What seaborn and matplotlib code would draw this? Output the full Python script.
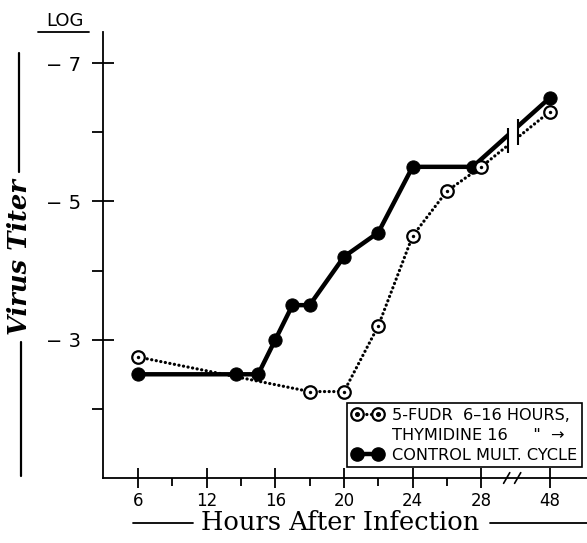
import numpy as np
import pandas as pd
import matplotlib
matplotlib.use("Agg")
import matplotlib.pyplot as plt
import seaborn as sns
from matplotlib.lines import Line2D
from matplotlib.legend_handler import HandlerTuple

# ---------------- data ----------------
hour_ticks = [6, 12, 16, 20, 24, 28, 48]
hour_tick_labels = ["6", "12", "16", "20", "24", "28", "48"]
hour_minor = [9, 14, 18, 22, 26]
titer_ticks = [3, 5, 7]
titer_tick_labels = ["− 3", "− 5", "− 7"]
titer_minor = [2, 4, 6]

control_hours = [6, 13.7, 15, 16, 17, 18, 20, 22, 24, 27.5, 48]
control_titer = [2.5, 2.5, 2.5, 3.0, 3.5, 3.5, 4.2, 4.55, 5.5, 5.5, 6.5]
fudr_hours = [6, 18, 20, 22, 24, 26, 28, 48]
fudr_titer = [2.75, 2.25, 2.25, 3.2, 4.5, 5.15, 5.5, 6.3]

legend_labels = ["5-FUDR  6–16 HOURS,", 'THYMIDINE 16     "  →', "CONTROL MULT. CYCLE"]

control_df = pd.DataFrame({"hours": control_hours, "titer": control_titer})
fudr_df = pd.DataFrame({"hours": fudr_hours, "titer": fudr_titer})

# piecewise-linear (broken) time axis: equal spacing between labelled hours
KN = np.array(hour_ticks, float)
PS = np.arange(len(KN), dtype=float)


def fwd(h):
    h = np.asarray(h, float)
    u = np.interp(h, KN, PS)
    u = np.where(h < KN[0], (h - KN[0]) / (KN[1] - KN[0]), u)
    u = np.where(h > KN[-1], PS[-1] + (h - KN[-1]) / (KN[-1] - KN[-2]), u)
    return u


def inv(u):
    u = np.asarray(u, float)
    h = np.interp(u, PS, KN)
    h = np.where(u < PS[0], KN[0] + u * (KN[1] - KN[0]), h)
    h = np.where(u > PS[-1], KN[-1] + (u - PS[-1]) * (KN[-1] - KN[-2]), h)
    return h


sns.set_style("white")
plt.rcParams["font.family"] = ["DejaVu Sans"]
plt.rcParams["text.color"] = "black"
plt.rcParams["xtick.color"] = "black"
plt.rcParams["ytick.color"] = "black"
plt.rcParams["xtick.labelcolor"] = "black"
plt.rcParams["ytick.labelcolor"] = "black"

W, H = 587, 543
fig = plt.figure(figsize=(W / 100, H / 100), dpi=100)
ax = fig.add_axes([103 / W, 1 - 478 / H, (W - 103) / W, (478 - 32) / H])
ax.set_xscale("function", functions=(fwd, inv))

DOT = (0, (0.05, 1.4))

sns.lineplot(data=control_df, x="hours", y="titer", ax=ax, color="black",
             lw=3.2, marker="o", markersize=9.5, markeredgecolor="black",
             estimator=None, sort=False, zorder=3)
sns.lineplot(data=fudr_df, x="hours", y="titer", ax=ax, color="black",
             lw=2.3, linestyle=DOT, dash_capstyle="round", marker="o",
             markersize=9, markerfacecolor="white", markeredgecolor="black",
             markeredgewidth=1.6, estimator=None, sort=False, zorder=4)
sns.scatterplot(data=fudr_df, x="hours", y="titer", ax=ax, color="black",
                s=6, linewidth=0, zorder=5)

ax.set_xlim(inv(-0.51), inv(6.54))
ax.set_ylim(1.0, 7.45)

# break in the curves between 28 and 48 h
b0, b1 = inv(5.385), inv(5.53)
ax.axvspan(b0, b1, ymin=0.66, ymax=0.9, color="white", zorder=6, lw=0)
cu = fwd(control_hours)
fu = fwd(fudr_hours)
for b in (b0, b1):
    ys = [np.interp(fwd(b), cu, control_titer), np.interp(fwd(b), fu, fudr_titer)]
    ax.plot([b, b], [min(ys) - 0.11, max(ys) + 0.11], color="black", lw=1.5,
            zorder=7, solid_capstyle="butt")

# x-axis break slashes
xt = ax.get_xaxis_transform()
for uc in (5.37, 5.53):
    ax.plot([inv(uc - 0.045), inv(uc + 0.045)], [-0.012, 0.012], transform=xt,
            color="black", lw=1.2, clip_on=False, zorder=8)

# spines & ticks
for s in ("top", "right"):
    ax.spines[s].set_visible(False)
for s in ("left", "bottom"):
    ax.spines[s].set_color("black")
    ax.spines[s].set_linewidth(1.3)

ax.set_xticks(hour_ticks, hour_tick_labels)
ax.set_xticks(hour_minor, minor=True)
ax.set_yticks(titer_ticks, titer_tick_labels)
ax.set_yticks(titer_minor, minor=True)
ax.tick_params(axis="x", which="both", bottom=True, top=False)
ax.tick_params(axis="y", which="both", left=True, right=False)
ax.tick_params(axis="x", which="major", direction="inout", length=14, width=1.3,
               labelsize=12, pad=3, colors="black")
ax.tick_params(axis="x", which="minor", direction="out", length=5.5, width=1.3,
               colors="black")
ax.tick_params(axis="y", which="major", direction="inout", length=16, width=1.3,
               labelsize=14, pad=8, colors="black")
ax.tick_params(axis="y", which="minor", direction="out", length=8, width=1.3,
               colors="black")
ax.set_xlabel("")
ax.set_ylabel("")

# legend
h_fudr = Line2D([], [], color="black", lw=2.3, ls=DOT, dash_capstyle="round",
                marker="o", ms=9, mfc="white", mec="black", mew=1.6)
h_fdot = Line2D([], [], ls="none", marker="o", ms=2.6, color="black")
h_blank = Line2D([], [], ls="none", alpha=0)
h_ctrl = Line2D([], [], color="black", lw=3.2, marker="o", ms=9.5)
leg = ax.legend(handles=[(h_fudr, h_fdot), h_blank, h_ctrl], labels=legend_labels,
                handler_map={tuple: HandlerTuple(ndivide=1, pad=0)}, numpoints=2,
                loc="upper left", bbox_to_anchor=(347 / W, 1 - 403 / H),
                bbox_transform=fig.transFigure, frameon=True, fancybox=False,
                edgecolor="black", framealpha=1, borderpad=0.3, labelspacing=0.3,
                handlelength=1.9, handletextpad=0.6, fontsize=11.6, borderaxespad=0)
leg.get_frame().set_linewidth(1.2)
leg.set_zorder(10)
for t in leg.get_texts():
    t.set_color("black")

# labels
fig.text(65 / W, 1 - 21 / H, "LOG", ha="center", va="center", fontsize=13)
fig.add_artist(Line2D([38 / W, 89 / W], [1 - 32 / H, 1 - 32 / H], color="black", lw=1.3))

fig.text(20 / W, 1 - 257 / H, "Virus Titer", rotation=90, ha="center", va="center",
         fontsize=18.5, family="DejaVu Serif", weight="bold", style="italic")
fig.add_artist(Line2D([19 / W, 19 / W], [1 - 53 / H, 1 - 172 / H], color="black", lw=1.6))
fig.add_artist(Line2D([21 / W, 21 / W], [1 - 342 / H, 1 - 476 / H], color="black", lw=1.6))

fig.text(340 / W, 1 - 522 / H, "Hours After Infection", ha="center", va="center",
         fontsize=18.5, family="DejaVu Serif")
fig.add_artist(Line2D([133 / W, 193 / W], [1 - 523 / H, 1 - 523 / H], color="black", lw=1.3))
fig.add_artist(Line2D([490 / W, 1.0], [1 - 523 / H, 1 - 523 / H], color="black", lw=1.3))

fig.savefig("out.png", dpi=100)
